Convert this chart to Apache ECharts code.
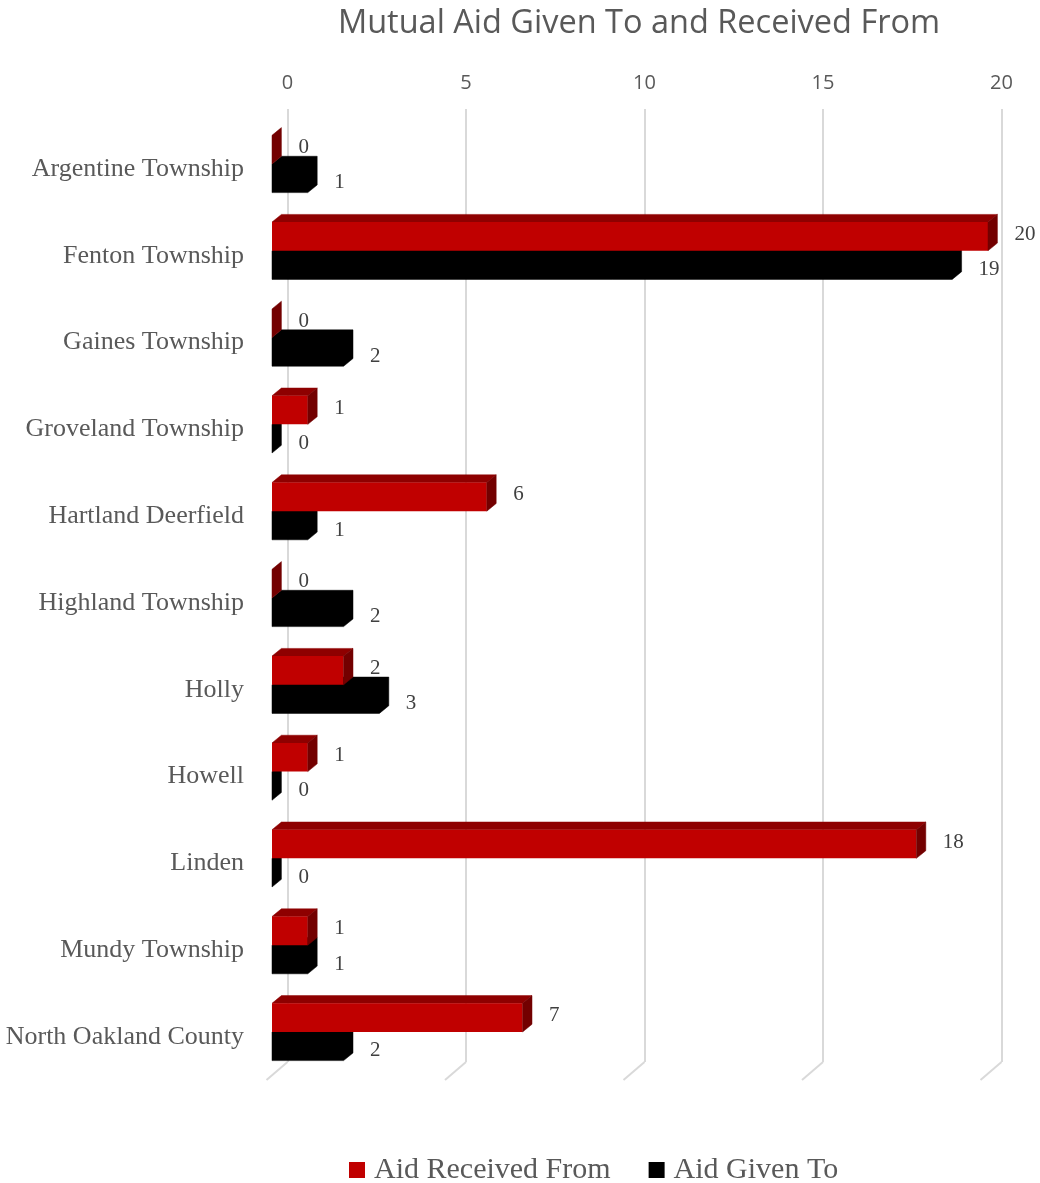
<!DOCTYPE html>
<html>
<head>
<meta charset="utf-8">
<script src="https://cdn.jsdelivr.net/npm/echarts@6/dist/echarts.min.js"></script>
<style>html,body{margin:0;padding:0;background:#fff;}#chart{width:1040px;height:1183px;}</style>
</head>
<body>
<div id="chart"></div>
<script>
const categories = ['Argentine Township','Fenton Township','Gaines Township','Groveland Township','Hartland Deerfield','Highland Township','Holly','Howell','Linden','Mundy Township','North Oakland County'];
const receivedFrom = [0, 20, 0, 1, 6, 0, 2, 1, 18, 1, 7];
const givenTo = [1, 19, 2, 0, 1, 2, 3, 0, 0, 1, 2];
const xTicks = [0, 5, 10, 15, 20];
const seriesNames = ['Aid Received From', 'Aid Given To'];

const DX = 9.4, DY = -7.7;
const FLOOR_DX = -21, FLOOR_DY = 18;
const GRID_COLOR = '#D9D9D9';
const TEXT_COLOR = '#595959';
const LABEL_COLOR = '#404040';
const SERIF = '"Liberation Serif", "DejaVu Serif", serif';

function makeBarRender(which, front, top, side) {
  return function (params, api) {
    const val = api.value(0);
    const idx = api.value(1);
    const p0 = api.coord([0, idx]);
    const p1 = api.coord([val, idx]);
    const band = api.size([0, 1])[1];
    const h = band * 0.33;
    const c = p0[1];
    const shift = -band * 0.058;
    let yTop, yBot, ly;
    if (which === 0) { yTop = c + shift - h; yBot = c + shift; ly = c - band * 0.245; }
    else { yTop = c + shift; yBot = c + shift + h; ly = c + band * 0.16; }
    const x0 = p0[0], x1 = p1[0];
    const children = [];
    if (front === top && top === side) {
      children.push({ type: 'polygon', shape: { points: [[x0, yTop], [x0 + DX, yTop + DY], [x1 + DX, yTop + DY], [x1 + DX, yBot + DY], [x1, yBot], [x0, yBot]] },
        style: { fill: front, stroke: front, lineWidth: 0.5 } });
    } else {
      if (x1 > x0) {
        children.push({ type: 'polygon', shape: { points: [[x0, yTop], [x0 + DX, yTop + DY], [x1 + DX, yTop + DY], [x1, yTop]] }, style: { fill: top, stroke: top, lineWidth: 0.5 } });
        children.push({ type: 'rect', shape: { x: x0, y: yTop, width: x1 - x0, height: yBot - yTop }, style: { fill: front } });
      }
      children.push({ type: 'polygon', shape: { points: [[x1, yTop], [x1 + DX, yTop + DY], [x1 + DX, yBot + DY], [x1, yBot]] }, style: { fill: side, stroke: side, lineWidth: 0.5 } });
    }
    children.push({ type: 'text', x: x1 + DX + 17, y: ly, style: { text: String(val), fill: LABEL_COLOR, font: '21px ' + SERIF, textAlign: 'left', textVerticalAlign: 'middle' } });
    return { type: 'group', children: children };
  };
}

const chart = echarts.init(document.getElementById('chart'));
chart.setOption({
  animation: false,
  backgroundColor: '#ffffff',
  title: {
    text: 'Mutual Aid Given To and Received From',
    left: 634, top: 2, textAlign: 'center',
    textStyle: { fontFamily: '"Open Sans", "Noto Sans", sans-serif', fontWeight: 'normal', fontSize: 32.5, color: TEXT_COLOR }
  },
  legend: {
    left: 349, top: 1155, padding: 0,
    itemWidth: 16, itemHeight: 16, itemGap: 38,
    icon: 'rect',
    data: [
      { name: seriesNames[0], itemStyle: { color: '#C00000' } },
      { name: seriesNames[1], itemStyle: { color: '#000000' } }
    ],
    textStyle: { fontFamily: SERIF, fontSize: 30, color: TEXT_COLOR, padding: [0, 0, 0, 4] }
  },
  grid: [
    { left: 287.5, right: 38.5, top: 109, bottom: 121 },
    { left: 272, right: 52, top: 125.6, bottom: 102.6 }
  ],
  xAxis: [
    {
      gridIndex: 0, type: 'value', position: 'top', min: 0, max: 20, interval: 5,
      axisLine: { show: false }, axisTick: { show: false },
      splitLine: { show: true, lineStyle: { color: GRID_COLOR, width: 2 } },
      axisLabel: { margin: 16, fontFamily: '"Open Sans", "Noto Sans", sans-serif', fontSize: 20, color: TEXT_COLOR,
        customValues: xTicks }
    },
    {
      gridIndex: 1, type: 'value', min: 0, max: 20, show: false
    }
  ],
  yAxis: [
    { gridIndex: 0, type: 'value', min: 0, max: 1, show: false },
    {
      gridIndex: 1, type: 'category', inverse: true, data: categories,
      axisLine: { show: false }, axisTick: { show: false }, splitLine: { show: false },
      axisLabel: { margin: 28, fontFamily: SERIF, fontSize: 26, color: TEXT_COLOR }
    }
  ],
  series: [
    {
      type: 'custom', name: 'floor', xAxisIndex: 0, yAxisIndex: 0, silent: true,
      data: xTicks.map(v => [v, 0]),
      renderItem: function (params, api) {
        const p = api.coord([api.value(0), api.value(1)]);
        return { type: 'line', shape: { x1: p[0], y1: p[1], x2: p[0] + FLOOR_DX, y2: p[1] + FLOOR_DY }, style: { stroke: GRID_COLOR, lineWidth: 2 } };
      }
    },
    {
      type: 'custom', name: seriesNames[1], xAxisIndex: 1, yAxisIndex: 1,
      itemStyle: { color: '#000000' },
      encode: { x: 0, y: 1 },
      data: givenTo.map((v, i) => [v, i]),
      renderItem: makeBarRender(1, '#000000', '#000000', '#000000')
    },
    {
      type: 'custom', name: seriesNames[0], xAxisIndex: 1, yAxisIndex: 1,
      itemStyle: { color: '#C00000' },
      encode: { x: 0, y: 1 },
      data: receivedFrom.map((v, i) => [v, i]),
      renderItem: makeBarRender(0, '#C00000', '#8E0000', '#730000')
    }
  ]
});
</script>
</body>
</html>
